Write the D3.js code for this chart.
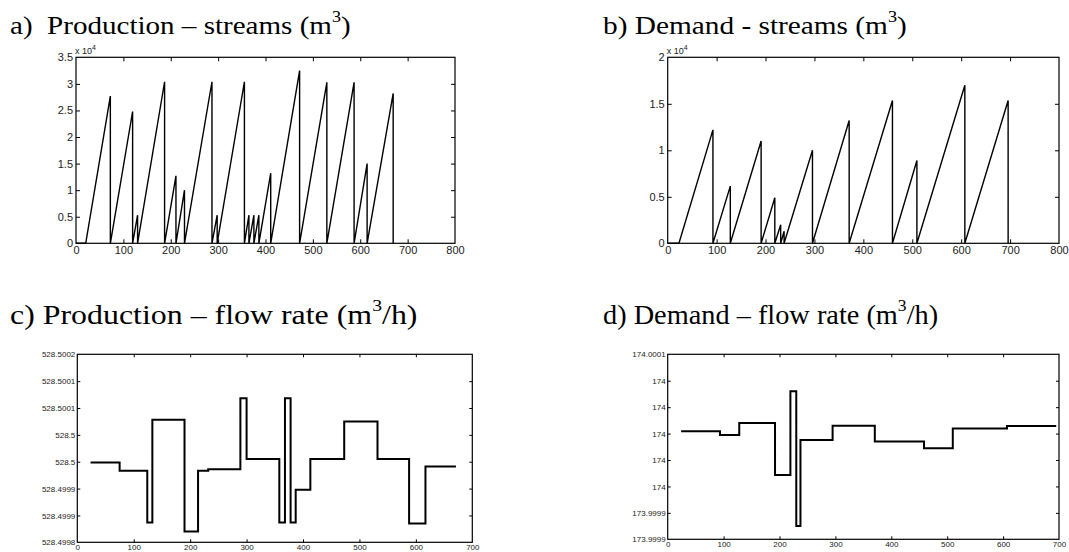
<!DOCTYPE html>
<html>
<head>
<meta charset="utf-8">
<script src="https://cdn.jsdelivr.net/npm/d3@7"></script>
<style>
  body { margin: 0; background: #fff; }
  svg { display: block; }
  .title { font-family: "Liberation Serif", "Times New Roman", serif; white-space: pre; }
  .tick text { font-family: "Liberation Sans", Arial, sans-serif; fill: #222; }
</style>
</head>
<body>
<script>
// data: x in hours, volumes in 10^4 m3

// a) production streams, sawtooth corners
var prodX = [0, 20.5, 72.5, 72.5, 119.5, 119.5, 130, 130, 187, 187, 211, 211, 229, 229,
  287, 287, 298, 298, 355.5, 355.5, 365, 365, 375.5, 375.5, 386, 386, 411, 411,
  472, 472, 529.5, 529.5, 587, 587, 614.5, 614.5, 669.5, 669.5];
var prodY = [0, 0, 2.77, 0, 2.48, 0, 0.53, 0, 3.04, 0, 1.27, 0, 1.0, 0,
  3.04, 0, 0.53, 0, 3.04, 0, 0.53, 0, 0.53, 0, 0.53, 0, 1.32, 0,
  3.25, 0, 3.03, 0, 3.03, 0, 1.5, 0, 2.82, 0];

// b) demand streams
var demX = [0, 23, 92.5, 92.5, 128, 128, 191, 191, 219, 219, 231, 231, 238, 238,
  296, 296, 371, 371, 459.5, 459.5, 509.5, 509.5, 607.5, 607.5, 696, 696];
var demY = [0, 0, 1.22, 0, 0.615, 0, 1.1, 0, 0.49, 0, 0.2, 0, 0.13, 0,
  1.0, 0, 1.32, 0, 1.535, 0, 0.89, 0, 1.7, 0, 1.535, 0];

// c) production flow rate, step edges and levels
var prodRateT = [23.5, 75, 124, 133, 190, 214, 232, 289, 300, 358, 368, 378, 387, 413, 473, 532, 588, 617, 671];
var prodRate = [528.4999485, 528.499933, 528.499837, 528.500028, 528.49982, 528.499933,
  528.499936, 528.500068, 528.499955, 528.499837, 528.500068, 528.499837,
  528.499898, 528.499955, 528.500025, 528.499955, 528.499835, 528.499941];

// d) demand flow rate
var demRateT = [24, 93.5, 128, 192, 219.5, 230, 237.5, 295, 370.5, 458.5, 510, 607, 695];
var demRate = [174.0000018, 173.999999, 174.0000081, 173.9999687, 174.000032, 173.9999301,
  173.9999952, 174.000006, 173.999994, 173.9999889, 174.0000038, 174.0000058];

// tick values and labels
var xTicks800 = [0, 100, 200, 300, 400, 500, 600, 700, 800];
var xTicks700 = [0, 100, 200, 300, 400, 500, 600, 700];
var prodYTicks = [0, 0.5, 1, 1.5, 2, 2.5, 3, 3.5];
var demYTicks = [0, 0.5, 1, 1.5, 2];
var prodRateTicks = [528.4998, 528.49985, 528.4999, 528.49995, 528.5, 528.50005, 528.5001, 528.50015];
var prodRateLabels = ["528.4998", "528.4999", "528.4999", "528.5", "528.5", "528.5001", "528.5001", "528.5002"];
var demRateTicks = [173.99992, 173.99994, 173.99996, 173.99998, 174, 174.00002, 174.00004, 174.00006];
var demRateLabels = ["173.9999", "173.9999", "174", "174", "174", "174", "174", "174.0001"];

var W = 1069, H = 552;
var svg = d3.select("body").append("svg").attr("width", W).attr("height", H);

// turn edges + levels into points of a step line
function steps(t, v) {
  var pts = [];
  for (var i = 0; i < v.length; i++) {
    pts.push([t[i], v[i]]);
    pts.push([t[i + 1], v[i]]);
  }
  return pts;
}

function zip(xs, ys) {
  return xs.map(function(x, i) { return [x, ys[i]]; });
}

function panel(o) {
  var x = d3.scaleLinear().domain(o.xDomain).range([o.left, o.right]);
  var y = d3.scaleLinear().domain(o.yDomain).range([o.bottom, o.top]);
  var g = svg.append("g");
  var tk = o.tick;

  var fmtY = o.yLabels ? function(d, i) { return o.yLabels[i]; } : d3.format("");

  g.append("g").attr("transform", "translate(0," + o.bottom + ")")
    .call(d3.axisBottom(x).tickValues(o.xTicks).tickSizeInner(-tk).tickSizeOuter(0).tickPadding(o.xPad))
    .call(function(a) { a.selectAll("text").attr("font-size", o.fs); });
  g.append("g").attr("transform", "translate(0," + o.top + ")")
    .call(d3.axisTop(x).tickValues(o.xTicks).tickSizeInner(-tk).tickSizeOuter(0).tickFormat(""));
  g.append("g").attr("transform", "translate(" + o.left + ",0)")
    .call(d3.axisLeft(y).tickValues(o.yTicks).tickSizeInner(-tk).tickSizeOuter(0).tickPadding(o.yPad).tickFormat(fmtY))
    .call(function(a) { a.selectAll("text").attr("font-size", o.fs); });
  g.append("g").attr("transform", "translate(" + o.right + ",0)")
    .call(d3.axisRight(y).tickValues(o.yTicks).tickSizeInner(-tk).tickSizeOuter(0).tickFormat(""));

  g.selectAll(".domain").remove();
  g.selectAll(".tick line").attr("stroke", "#000");
  g.selectAll(".tick").filter(function(d) {
    return d === o.xDomain[0] || d === o.xDomain[1] || d === o.yDomain[0] || d === o.yDomain[1];
  }).select("line").remove();

  g.append("rect")
    .attr("x", o.left).attr("y", o.top)
    .attr("width", o.right - o.left).attr("height", o.bottom - o.top)
    .attr("fill", "none").attr("stroke", "#000").attr("stroke-width", 1.2);

  var line = d3.line().x(function(d) { return x(d[0]); }).y(function(d) { return y(d[1]); });
  g.append("path").datum(o.points)
    .attr("d", line)
    .attr("fill", "none").attr("stroke", "#000")
    .attr("stroke-width", o.lw).attr("stroke-linejoin", "miter");

  // title, stretched sideways like the scanned figure
  var t = svg.append("text").attr("class", "title")
    .attr("transform", "translate(" + o.tx + "," + o.ty + ") scale(" + o.sx + ",1)")
    .attr("font-size", o.tfs);
  t.append("tspan").text(o.title);
  t.append("tspan").attr("font-size", o.tfs * 0.62).attr("dy", -o.tfs * 0.45).text("3");
  t.append("tspan").attr("dy", o.tfs * 0.45).text(o.unit);

  if (o.exp) {
    var e = svg.append("text").attr("x", o.left - 1).attr("y", o.top - 3)
      .attr("font-family", "Liberation Sans, Arial, sans-serif").attr("font-size", 9).attr("fill", "#222");
    e.append("tspan").text("x 10");
    e.append("tspan").attr("font-size", 7).attr("dy", -4).text("4");
  }
}

panel({
  left: 76, right: 455, top: 57.3, bottom: 243.3,
  xDomain: [0, 800], yDomain: [0, 3.5], xTicks: xTicks800, yTicks: prodYTicks,
  tick: 4, fs: 11, xPad: 3, yPad: 3, lw: 1.4,
  points: zip(prodX, prodY),
  tx: 10, ty: 33.5, tfs: 25.5, sx: 1.14, title: "a)  Production \u2013 streams (m", unit: ")", exp: true
});

panel({
  left: 667.7, right: 1059, top: 57.3, bottom: 243.3,
  xDomain: [0, 800], yDomain: [0, 2], xTicks: xTicks800, yTicks: demYTicks,
  tick: 4, fs: 11, xPad: 3, yPad: 3, lw: 1.4,
  points: zip(demX, demY),
  tx: 603, ty: 33.5, tfs: 25.5, sx: 1.15, title: "b) Demand - streams (m", unit: ")", exp: true
});

panel({
  left: 77.3, right: 472.3, top: 354.3, bottom: 542.3,
  xDomain: [0, 700], yDomain: [528.4998, 528.50015], xTicks: xTicks700, yTicks: prodRateTicks,
  yLabels: prodRateLabels,
  tick: 3, fs: 8, xPad: 2, yPad: 2, lw: 2,
  points: steps(prodRateT, prodRate),
  tx: 10, ty: 323.5, tfs: 27.5, sx: 1.16, title: "c) Production \u2013 flow rate (m", unit: "/h)", exp: false
});

panel({
  left: 667.7, right: 1059, top: 354.3, bottom: 539.3,
  xDomain: [0, 700], yDomain: [173.99992, 174.00006], xTicks: xTicks700, yTicks: demRateTicks,
  yLabels: demRateLabels,
  tick: 3, fs: 8, xPad: 2, yPad: 2, lw: 2,
  points: steps(demRateT, demRate),
  tx: 603, ty: 323.5, tfs: 27.5, sx: 1.03, title: "d) Demand \u2013 flow rate (m", unit: "/h)", exp: false
});
</script>
</body>
</html>
